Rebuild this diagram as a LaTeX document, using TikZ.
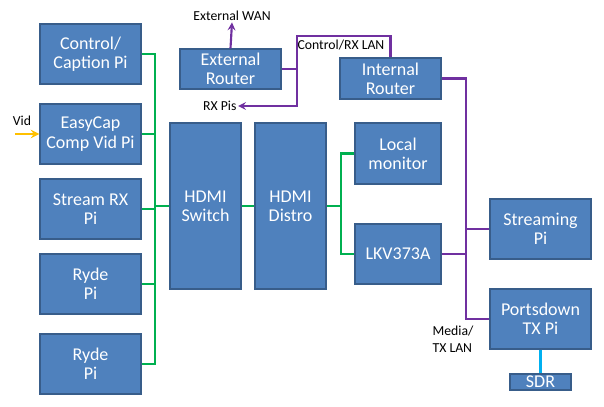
\documentclass[tikz,border=0pt]{standalone}
\usepackage{fontspec}
\setmainfont{Carlito}
\usepackage{tikz}
\usetikzlibrary{calc}
\tikzset{>=stealth}

\definecolor{boxblue}{HTML}{4F81BD}
\definecolor{boxedge}{HTML}{385D8A}
\definecolor{hdmigreen}{HTML}{00B050}
\definecolor{lanpurple}{HTML}{7030A0}
\definecolor{vidyellow}{HTML}{FFC000}
\definecolor{sdrblue}{HTML}{00B0F0}

\tikzset{
  pibox/.style={draw=boxedge, fill=boxblue, text=white, align=center,
    line width=1pt, inner sep=1pt, minimum width=75.75pt, minimum height=45pt,
    font=\fontsize{13.5}{14.5}\selectfont},
  tag/.style={inner sep=1pt, font=\fontsize{10.3}{12.5}\selectfont, align=left},
  hdmi/.style={draw=hdmigreen, line width=1.6pt},
  lan/.style={draw=lanpurple, line width=1.6pt},
}

\begin{document}
\begin{tikzpicture}[x=0.75pt, y=-0.75pt]
        \useasboundingbox (0,0) rectangle (604,407);

        % left column of Pis
        \node[pibox] (ctrl) at (90.5,54) {Control/\\Caption Pi};
        \node[pibox] (easycap) at (90.5,134) {EasyCap\\Comp Vid Pi};
        \node[pibox] (streamrx) at (90.5,209) {Stream RX\\Pi};
        \node[pibox] (rydea) at (90.5,284) {Ryde\\Pi};
        \node[pibox] (rydeb) at (90.5,364) {Ryde\\Pi};

        % HDMI chain
        \node[pibox, minimum width=53.25pt, minimum height=124.5pt] (hdmisw) at (205.5,206) {HDMI\\Switch};
        \node[pibox, minimum width=53.25pt, minimum height=124.5pt] (distro) at (290.5,206) {HDMI\\Distro};
        \node[pibox, minimum width=64.5pt, minimum height=45.75pt] (localmon) at (398,153.5) {Local\\monitor};
        \node[pibox, minimum width=64.5pt] (lkv) at (398,254) {LKV373A};

        % routers
        \node[pibox, minimum height=30pt] (extrouter) at (230.5,69) {External\\Router};
        \node[pibox, minimum height=30.75pt] (introuter) at (390.5,78.5) {Internal\\Router};

        % right side
        \node[pibox] (streaming) at (540.5,229) {Streaming\\Pi};
        \node[pibox] (portsdown) at (540.5,319) {Portsdown\\TX Pi};
        \node[pibox, minimum width=45.75pt, minimum height=12pt, inner sep=0pt] (sdr) at (540.5,382) {SDR};

        % labels
        \node[tag] (wan) at (232,16) {External WAN};
        \node[tag, anchor=east] (rxpis) at (238,106) {RX Pis};
        \node[tag, anchor=north west] (ctrllan) at (296,38) {Control/RX LAN};
        \node[tag, anchor=west] (medialan) at (431,339) {Media/\\TX LAN};
        \node[tag] (vid) at (22,121) {Vid};

        \coordinate (gbusa) at (155,0);
        \coordinate (gbusb) at (341,0);
        \coordinate (pbusa) at (297,0);
        \coordinate (pbusb) at (466,0);
        \coordinate (lantop) at (297,36);
        \coordinate (vidin) at (15,134);

        % HDMI connections
        \draw[hdmi] (ctrl.east) -- (ctrl.east -| gbusa) -- (rydeb.east -| gbusa) -- (rydeb.east);
        \draw[hdmi] (easycap.east) -- (easycap.east -| gbusa);
        \draw[hdmi] (streamrx.east) -- (streamrx.east -| gbusa);
        \draw[hdmi] (rydea.east) -- (rydea.east -| gbusa);
        \draw[hdmi] (hdmisw.west -| gbusa) -- (hdmisw.west);
        \draw[hdmi] (hdmisw.east) -- (distro.west);
        \draw[hdmi] (distro.east) -- (distro.east -| gbusb);
        \draw[hdmi] (localmon.west) -- (localmon.west -| gbusb) -- (lkv.west -| gbusb) -- (lkv.west);

        % LAN connections
        \draw[lan, ->] (extrouter.north) -- (wan.south);
        \draw[lan] (extrouter.east) -- (extrouter.east -| pbusa);
        \draw[lan, ->] (introuter.north) |- (lantop) -- (lantop |- rxpis.east) -- (rxpis.east);
        \draw[lan] (introuter.east) -- (introuter.east -| pbusb) -- (portsdown.west -| pbusb) -- (portsdown.west);
        \draw[lan] (streaming.west) -- (streaming.west -| pbusb);
        \draw[lan] (lkv.east) -- (lkv.east -| pbusb);

        % video in and SDR
        \draw[->, vidyellow, line width=1.8pt] (vidin) -- (easycap.west);
        \draw[sdrblue, line width=1.6pt] (portsdown.south) -- (sdr.north);
\end{tikzpicture}
\end{document}
